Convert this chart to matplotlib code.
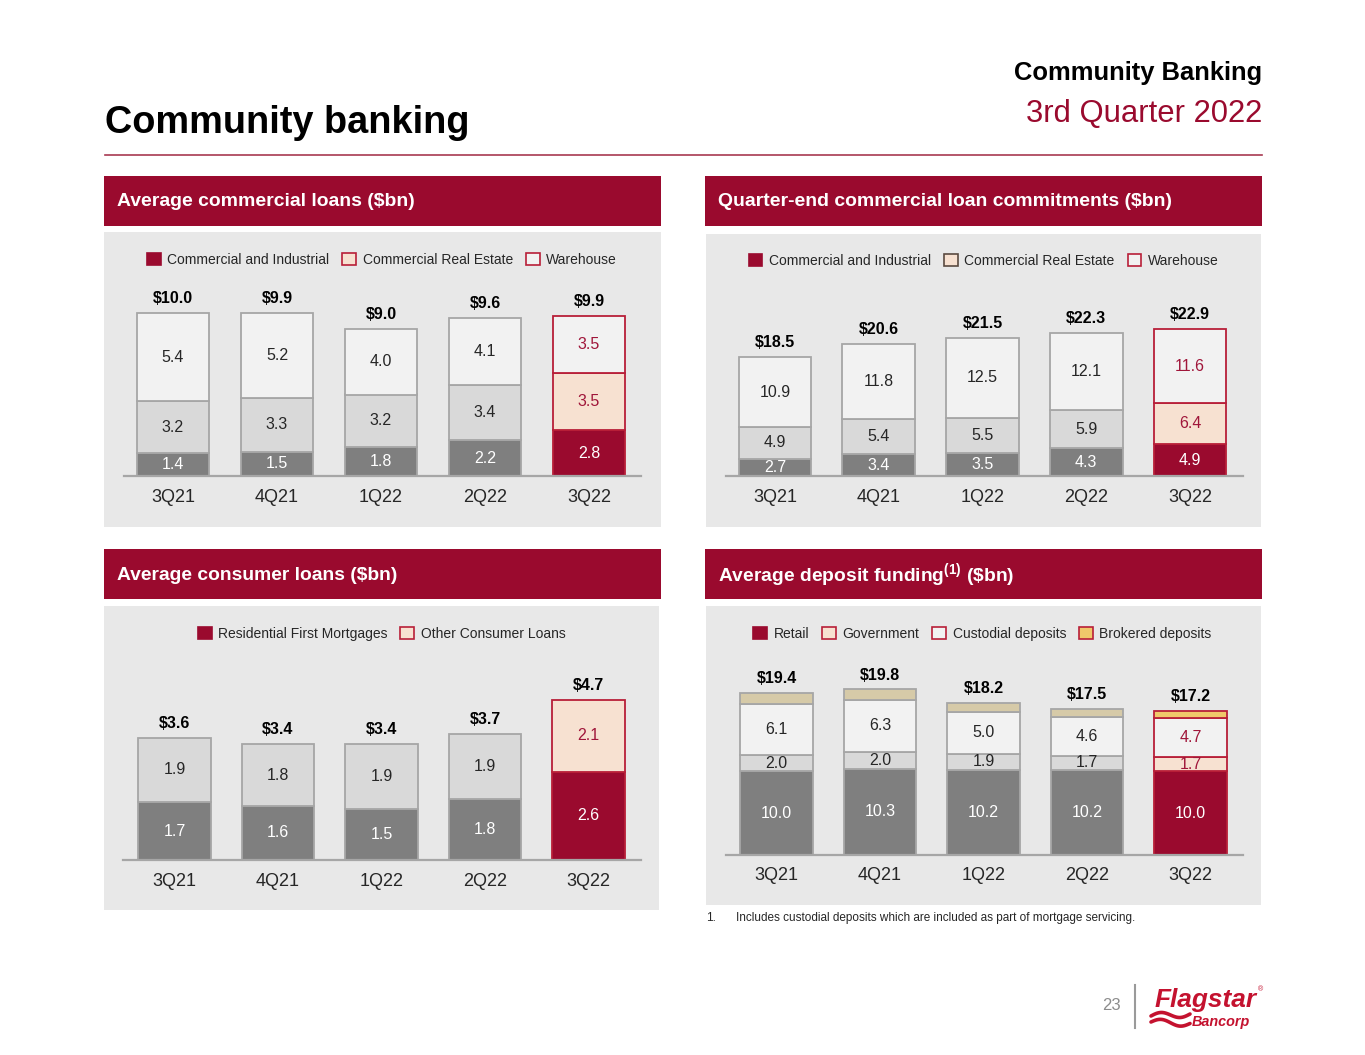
import numpy as np
import matplotlib
matplotlib.use('Agg')
import matplotlib.pyplot as plt
from matplotlib.patches import Rectangle, Patch
from matplotlib.lines import Line2D
from matplotlib import font_manager

# ---------------- data ----------------
quarters = ['3Q21', '4Q21', '1Q22', '2Q22', '3Q22']

com_ci = [1.4, 1.5, 1.8, 2.2, 2.8]
com_cre = [3.2, 3.3, 3.2, 3.4, 3.5]
com_wh = [5.4, 5.2, 4.0, 4.1, 3.5]
com_total = ['$10.0', '$9.9', '$9.0', '$9.6', '$9.9']

cmt_ci = [2.7, 3.4, 3.5, 4.3, 4.9]
cmt_cre = [4.9, 5.4, 5.5, 5.9, 6.4]
cmt_wh = [10.9, 11.8, 12.5, 12.1, 11.6]
cmt_total = ['$18.5', '$20.6', '$21.5', '$22.3', '$22.9']

con_rfm = [1.7, 1.6, 1.5, 1.8, 2.6]
con_other = [1.9, 1.8, 1.9, 1.9, 2.1]
con_total = ['$3.6', '$3.4', '$3.4', '$3.7', '$4.7']

dep_retail = [10.0, 10.3, 10.2, 10.2, 10.0]
dep_gov = [2.0, 2.0, 1.9, 1.7, 1.7]
dep_cust = [6.1, 6.3, 5.0, 4.6, 4.7]
dep_brok = [1.3, 1.2, 1.1, 1.0, 0.8]
dep_total = ['$19.4', '$19.8', '$18.2', '$17.5', '$17.2']

com_legend = ['Commercial and Industrial', 'Commercial Real Estate', 'Warehouse']
con_legend = ['Residential First Mortgages', 'Other Consumer Loans']
dep_legend = ['Retail', 'Government', 'Custodial deposits', 'Brokered deposits']

# ---------------- style ----------------
CRIMSON = '#9a0a2e'
CRIM_EDGE = '#b81f38'
CRIM_TXT = '#a0163a'
DARK = '#7f7f7f'
LIGHT = '#d9d9d9'
WHITE = '#f2f2f2'
PEACH = '#f7e1d1'
TAN = '#d6caa8'
GOLD = '#f0c86a'
EDGE = '#a6a6a6'
BG = '#e8e8e8'
TXT = '#262626'

def has_font(name):
    try:
        font_manager.findfont(font_manager.FontProperties(family=name), fallback_to_default=False)
        return True
    except Exception:
        return False

BASE = 'Liberation Sans' if has_font('Liberation Sans') else 'DejaVu Sans'
COND = 'Liberation Sans Narrow' if has_font('Liberation Sans Narrow') else BASE
plt.rcParams['font.family'] = [BASE, 'DejaVu Sans']
plt.rcParams['mathtext.default'] = 'regular'

W, H = 1365, 1055
fig = plt.figure(figsize=(W / 100, H / 100), dpi=100)
renderer = fig.canvas.get_renderer()


def fx(x):
    return x / W


def fy(y):
    return 1 - y / H


def frect(x0, y0, x1, y1):
    return [x0 / W, 1 - y1 / H, (x1 - x0) / W, (y1 - y0) / H]


def fit(t, target_w):
    w = t.get_window_extent(renderer).width
    t.set_fontsize(t.get_fontsize() * target_w / w)


def box(x0, y0, x1, y1, color):
    fig.add_artist(Rectangle((fx(x0), fy(y1)), (x1 - x0) / W, (y1 - y0) / H,
                             transform=fig.transFigure, facecolor=color,
                             edgecolor='none', zorder=0))


# ---------------- page decorations ----------------
t = fig.text(fx(105), fy(133), 'Community banking', family=[COND, BASE],
             fontweight='bold', fontsize=32, color='black', va='baseline', ha='left')
fit(t, 365)
t = fig.text(fx(1262), fy(80), 'Community Banking', family=[COND, BASE],
             fontweight='bold', fontsize=20, color='black', va='baseline', ha='right')
fit(t, 248)
t = fig.text(fx(1262), fy(122), '3rd Quarter 2022', family=[COND, BASE],
             fontsize=26, color=CRIMSON, va='baseline', ha='right')
fit(t, 237)
fig.add_artist(Line2D([fx(105), fx(1262)], [fy(155), fy(155)], transform=fig.transFigure,
                      color='#a83a52', lw=1.2))

headers = [
    ((104, 176, 661, 226), 'Average commercial loans ($bn)', 299),
    ((705, 176, 1262, 226), 'Quarter-end commercial loan commitments ($bn)', 454),
    ((104, 549, 661, 599), 'Average consumer loans ($bn)', 282),
    ((705, 549, 1262, 599), r'Average deposit funding$^{(1)}$ (\$bn)', 298),
]
for (x0, y0, x1, y1), label, tw in headers:
    box(x0, y0, x1, y1, CRIMSON)
    t = fig.text(fx(x0 + 13), fy((y0 + y1) / 2 + 1), label, family=[COND, BASE],
                 fontweight='bold', fontsize=14, color='white', va='center', ha='left')
    fit(t, tw)

box(104, 232, 661, 527, BG)
box(706, 234, 1261, 527, BG)
box(104, 606, 659, 910, BG)
box(706, 606, 1261, 905, BG)

# ---------------- charts ----------------

def make_axes(x_axis0, x_axis1, c0, spacing, y_base, y_top, scale):
    ax = fig.add_axes(frect(x_axis0, y_top, x_axis1, y_base))
    ax.set_xlim((x_axis0 - c0) / spacing, (x_axis1 - c0) / spacing)
    ax.set_ylim(0, (y_base - y_top) / scale)
    ax.patch.set_visible(False)
    for s in ['top', 'left', 'right']:
        ax.spines[s].set_visible(False)
    ax.spines['bottom'].set_color(EDGE)
    ax.spines['bottom'].set_linewidth(1.6)
    ax.set_yticks([])
    ax.set_xticks(np.arange(len(quarters)))
    ax.set_xticklabels(quarters, fontsize=13, color=TXT)
    ax.tick_params(axis='x', length=0, pad=9)
    return ax


def draw_stack(ax, segments, face_norm, face_last, lab_norm, lab_last, totals):
    n = len(quarters)
    x = np.arange(n)
    bottom = np.zeros(n)
    for k, vals in enumerate(segments):
        vals = np.asarray(vals, dtype=float)
        faces = [face_norm[k]] * (n - 1) + [face_last[k]]
        edges = [EDGE] * (n - 1) + [CRIM_EDGE]
        ax.bar(x, vals, 0.7, bottom=bottom, color=faces, edgecolor=edges,
               linewidth=1.3, zorder=2)
        if lab_norm[k] is not None:
            for i in range(n):
                col = lab_last[k] if i == n - 1 else lab_norm[k]
                ax.text(x[i], bottom[i] + vals[i] / 2, f'{vals[i]:.1f}', ha='center',
                        va='center', fontsize=11.5, color=col, zorder=3)
        bottom += vals
    for i in range(n):
        ax.annotate(totals[i], (x[i], bottom[i]), xytext=(0, 5), textcoords='offset points',
                    ha='center', va='bottom', fontsize=11.5, fontweight='bold', color='black')


def legend(cx, cy, labels, faces, edges):
    handles = [Patch(facecolor=f, edgecolor=e, linewidth=1.2) for f, e in zip(faces, edges)]
    fig.legend(handles, labels, loc='center', bbox_to_anchor=(fx(cx), fy(cy)),
               ncol=len(labels), frameon=False, fontsize=10, handlelength=1.0,
               handleheight=1.0, handletextpad=0.45, columnspacing=0.95,
               labelcolor=TXT, borderpad=0, borderaxespad=0)


# Panel 1: average commercial loans
ax1 = make_axes(124, 641, 173, 104, 476, 245, 16.3)
draw_stack(ax1, [com_ci, com_cre, com_wh],
           [DARK, LIGHT, WHITE], [CRIMSON, PEACH, WHITE],
           ['white', TXT, TXT], ['white', CRIM_TXT, CRIM_TXT], com_total)
legend(382, 260, com_legend, [CRIMSON, PEACH, WHITE], [CRIMSON, CRIM_EDGE, CRIM_EDGE])

# Panel 2: commitments
ax2 = make_axes(726, 1243, 775, 103.75, 476, 245, 6.43)
draw_stack(ax2, [cmt_ci, cmt_cre, cmt_wh],
           [DARK, LIGHT, WHITE], [CRIMSON, PEACH, WHITE],
           ['white', TXT, TXT], ['white', CRIM_TXT, CRIM_TXT], cmt_total)
legend(983.5, 261, com_legend, [CRIMSON, PEACH, WHITE], [CRIMSON, '#5a4a40', CRIM_EDGE])

# Panel 3: consumer loans
ax3 = make_axes(123, 641, 174.5, 103.5, 860, 620, 34.0)
draw_stack(ax3, [con_rfm, con_other],
           [DARK, LIGHT], [CRIMSON, PEACH],
           ['white', TXT], ['white', CRIM_TXT], con_total)
legend(381.5, 634, con_legend, [CRIMSON, PEACH], [CRIMSON, CRIM_EDGE])

# Panel 4: deposit funding
ax4 = make_axes(726, 1243, 776.5, 103.5, 855, 620, 8.36)
draw_stack(ax4, [dep_retail, dep_gov, dep_cust, dep_brok],
           [DARK, LIGHT, WHITE, TAN], [CRIMSON, PEACH, WHITE, GOLD],
           ['white', TXT, TXT, None], ['white', CRIM_TXT, CRIM_TXT, None], dep_total)
legend(982.5, 634, dep_legend, [CRIMSON, PEACH, WHITE, GOLD],
       [CRIMSON, CRIM_EDGE, CRIM_EDGE, CRIM_EDGE])

# ---------------- footnote & footer ----------------
fig.text(fx(706), fy(918), '1.', fontsize=8.5, color=TXT, va='center', ha='left')
fig.text(fx(736), fy(918), 'Includes custodial deposits which are included as part of mortgage servicing.',
         fontsize=8.5, color=TXT, va='center', ha='left')

fig.text(fx(1121), fy(1005), '23', fontsize=12, color='#8c8c8c', va='center', ha='right')
fig.add_artist(Line2D([fx(1135), fx(1135)], [fy(985), fy(1028)], transform=fig.transFigure,
                      color='#9a9a9a', lw=1.5))
t = fig.text(fx(1155), fy(1007), 'Flagstar', family=[COND, BASE], fontweight='bold',
             style='italic', fontsize=22, color='#c4122f', va='baseline', ha='left')
fit(t, 102)
fig.text(fx(1258), fy(990), '®', fontsize=5, color='#c4122f', va='center', ha='left')
t = fig.text(fx(1192), fy(1026), 'Bancorp', family=[COND, BASE], fontweight='bold',
             style='italic', fontsize=12, color='#c4122f', va='baseline', ha='left')
fit(t, 58)
xs = np.linspace(1151, 1190, 40)
ph = (xs - 1151) / 39.0
yu = 1016 - 3.0 * np.sin(2 * np.pi * ph) - 2.0 * ph
yl = 1022 - 3.0 * np.sin(2 * np.pi * ph) + 1.5 * ph
for yy in (yu, yl):
    fig.add_artist(Line2D(fx(xs), fy(yy), transform=fig.transFigure, color='#c4122f',
                          lw=2.6, solid_capstyle='round'))

fig.savefig('out.png', dpi=100, facecolor='white')
